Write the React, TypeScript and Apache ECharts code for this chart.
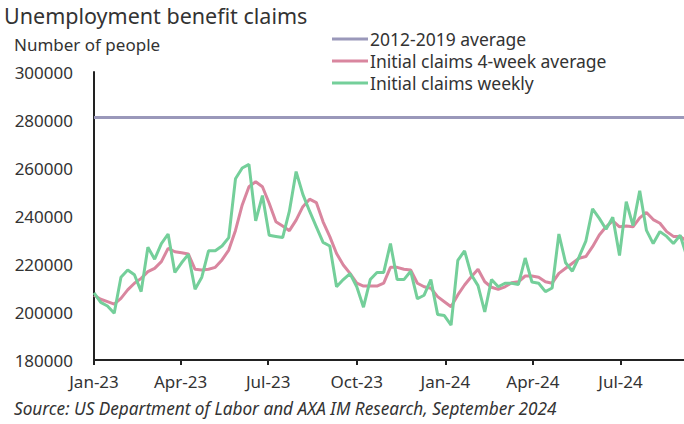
import React, { useEffect, useRef } from "react";
import * as echarts from "echarts";

// ---- Data ----
const firstWeek = "2023-01-01"; // first weekly observation, at the axis origin
const axisStart = "2023-01-01";
const axisEnd = "2024-09-05";

const tickDates = ["2023-01-01", "2023-04-01", "2023-07-01", "2023-10-01", "2024-01-01", "2024-04-01", "2024-07-01"];
const tickLabels = ["Jan-23", "Apr-23", "Jul-23", "Oct-23", "Jan-24", "Apr-24", "Jul-24"];

const yTicks = [180000, 200000, 220000, 240000, 260000, 280000, 300000];

const average2012to2019 = 281000;

const initialClaimsWeekly = [
  208000, 204000, 202500, 199500, 214500, 217500, 215500, 208500, 227000, 222000,
  228500, 232500, 216500, 220500, 224000, 209500, 214500, 225500, 225500, 227500,
  231000, 255500, 260000, 261500, 238000, 248500, 232000, 231500, 231000, 242000,
  258500, 249000, 242000, 235500, 229000, 227500, 210500, 213500, 216000, 210500,
  202000, 213500, 216500, 216500, 228500, 213500, 213500, 217000, 205500, 207000,
  213500, 199000, 198500, 194500, 221500, 225500, 215500, 211000, 200000, 213500,
  210500, 212000, 212000, 211500, 222500, 212500, 212000, 208500, 210000, 232500,
  220500, 217000, 223000, 229500, 243000, 239000, 234500, 239500, 223500, 246000,
  236000, 250500, 234000, 228500, 233500, 231500, 228500, 232000, 223000,
];

const initialClaims4WeekAvg = [
  207000, 205300, 204300, 203300, 205700, 209200, 212000, 214000, 216800, 218200,
  221000, 226500, 225100, 224700, 224200, 217800, 217500, 217800, 218600, 221700,
  225800, 234000, 244600, 252200, 254300, 252200, 245300, 237600, 235800, 233900,
  238300, 243900, 247000, 245600, 237600, 231400, 224400, 219600, 216100, 212000,
  210800, 210800, 210800, 212000, 218600, 218600, 217800, 217500, 212000, 210500,
  209900, 206400, 204300, 202200, 207100, 211250, 214700, 217800, 212600, 210300,
  209400, 210500, 212200, 212600, 215000, 215000, 214500, 212600, 212000, 216100,
  218200, 220300, 222400, 223100, 227200, 232100, 235500, 238000, 235500, 235800,
  235500, 239200, 241500, 238500, 237000, 233500, 231500, 231500, 229500,
];

const DAY = 86400000;
const dayOf = (d: string) => (Date.parse(d) - Date.parse(axisStart)) / DAY;

export default function App() {
  const ref = useRef<HTMLDivElement>(null);

  useEffect(() => {
    if (!ref.current) return;
    const chart = echarts.init(ref.current, undefined, { renderer: "svg" });

    const tickDays = tickDates.map(dayOf);
    const maxDay = dayOf(axisEnd);
    const startDay = dayOf(firstWeek);
    const weekly = initialClaimsWeekly.map((v, i) => [startDay + i * 7, v]);
    const avg4 = initialClaims4WeekAvg.map((v, i) => [startDay + i * 7, v]);

    const font = "Noto Sans";
    const txt = "#333333";

    chart.setOption({
      animation: false,
      backgroundColor: "#ffffff",
      textStyle: { fontFamily: font },
      title: [
        {
          text: "Unemployment benefit claims",
          left: 4,
          top: 4,
          padding: 0,
          textStyle: { fontFamily: font, fontSize: 21.5, fontWeight: "normal", color: txt },
        },
        {
          text: "Number of people",
          left: 14,
          top: 36,
          padding: 0,
          textStyle: { fontFamily: font, fontSize: 17, fontWeight: "normal", color: txt },
        },
        {
          text: "Source: US Department of Labor and AXA IM Research, September 2024",
          left: 14,
          top: 400,
          padding: 0,
          textStyle: { fontFamily: font, fontSize: 17.2, fontStyle: "italic", fontWeight: "normal", color: txt },
        },
      ],
      legend: {
        orient: "vertical",
        left: 332,
        top: 30,
        padding: 0,
        itemWidth: 36,
        itemHeight: 3,
        itemGap: 4,
        icon: "rect",
        textStyle: { fontFamily: font, fontSize: 17.5, color: txt, padding: [0, 0, 0, -3] },
        data: ["2012-2019 average", "Initial claims 4-week average", "Initial claims weekly"],
      },
      grid: { left: 94, right: 0, top: 72, bottom: 64 },
      xAxis: {
        type: "value",
        min: 0,
        max: maxDay,
        splitLine: { show: false },
        axisLine: { show: true, onZero: false, lineStyle: { color: "#222", width: 2 } },
        axisTick: { show: true, customValues: tickDays, length: 5, lineStyle: { color: "#222", width: 2 } },
        axisLabel: {
          customValues: tickDays,
          margin: 13,
          fontFamily: font,
          fontSize: 17,
          color: txt,
          formatter: (v: number) => {
            const k = tickDays.findIndex((t) => Math.abs(t - v) < 0.5);
            return k >= 0 ? tickLabels[k] : "";
          },
        },
      },
      yAxis: {
        type: "value",
        min: yTicks[0],
        max: yTicks[yTicks.length - 1],
        interval: yTicks[1] - yTicks[0],
        splitLine: { show: false },
        axisLine: { show: true, lineStyle: { color: "#222", width: 2 } },
        axisTick: { show: false },
        axisLabel: {
          margin: 21,
          fontFamily: font,
          fontSize: 17,
          color: txt,
          formatter: (v: number) => String(Math.round(v)),
        },
      },
      series: [
        {
          name: "2012-2019 average",
          type: "line",
          symbol: "none",
          color: "#9a98ba",
          lineStyle: { width: 3, color: "#9a98ba" },
          data: [
            [0, average2012to2019],
            [maxDay, average2012to2019],
          ],
        },
        {
          name: "Initial claims 4-week average",
          type: "line",
          symbol: "none",
          color: "#d9869f",
          lineStyle: { width: 3, color: "#d9869f" },
          data: avg4,
        },
        {
          name: "Initial claims weekly",
          type: "line",
          symbol: "none",
          color: "#74cf9a",
          lineStyle: { width: 3, color: "#74cf9a" },
          data: weekly,
        },
      ],
    });

    return () => chart.dispose();
  }, []);

  return (
    <div
      ref={ref}
      style={{ position: "fixed", left: 0, top: 0, width: 684, height: 424, background: "#fff" }}
    />
  );
}
